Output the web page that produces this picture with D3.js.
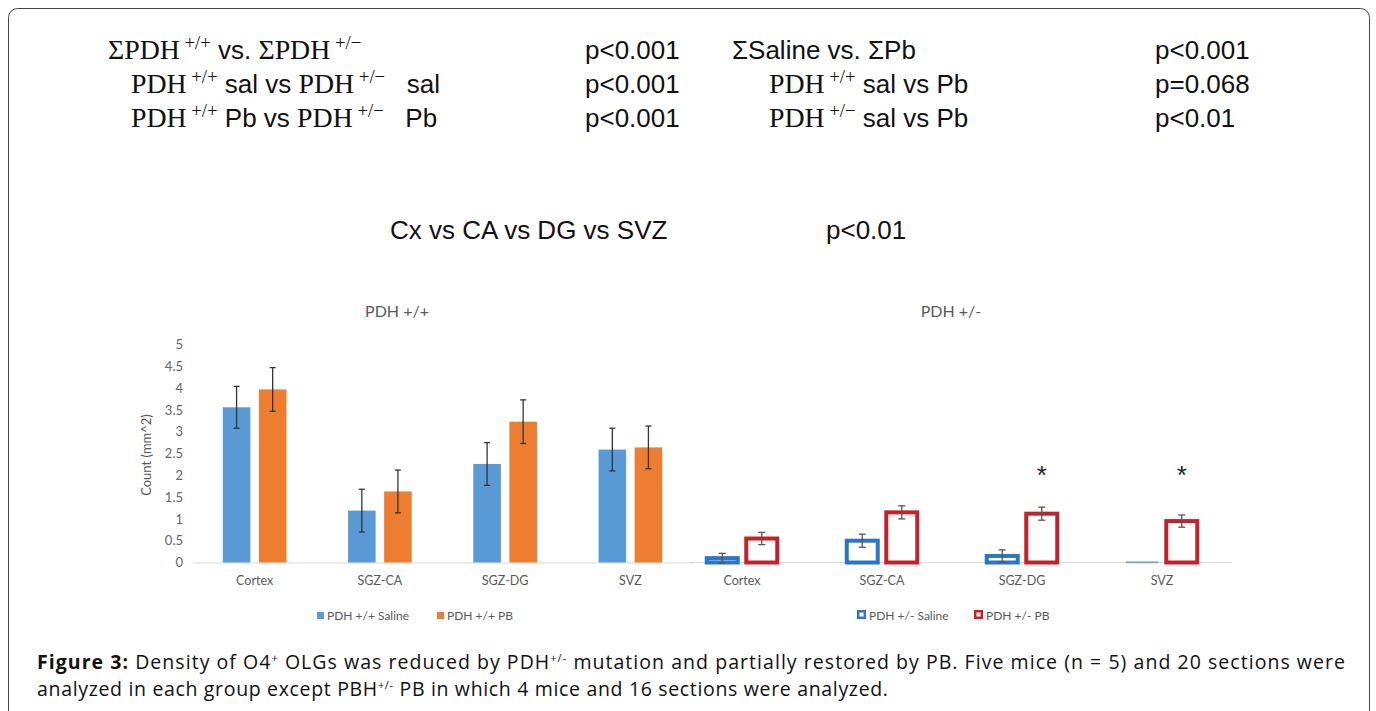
<!DOCTYPE html>
<html>
<head>
	<meta charset="utf-8">
	<title>Figure 3</title>
	<script src="https://d3js.org/d3.v7.min.js"></script>
	<style>
		body { margin: 0; background: #fff; }
		text { white-space: pre; }
	</style>
</head>
<body>
	<svg id="fig" width="1376" height="711"></svg>

	<script>
	// ---------- data ----------
	var regions = ["Cortex", "SGZ-CA", "SGZ-DG", "SVZ"];
	var wtSeries = ["PDH +/+ Saline", "PDH +/+ PB"];
	var hetSeries = ["PDH +/- Saline", "PDH +/- PB"];

	var wtSaline = [3.56, 1.19, 2.26, 2.59];
	var wtSalineErr = [0.48, 0.49, 0.49, 0.49];
	var wtPB = [3.97, 1.63, 3.23, 2.64];
	var wtPBErr = [0.5, 0.49, 0.5, 0.49];

	var hetSaline = [0.1, 0.5, 0.15, 0.01];
	var hetSalineErr = [0.11, 0.15, 0.14, 0];
	var hetPB = [0.55, 1.15, 1.12, 0.95];
	var hetPBErr = [0.14, 0.15, 0.15, 0.14];
	var hetStars = ["", "", "*", "*"];

	var yTicks = [0, 0.5, 1, 1.5, 2, 2.5, 3, 3.5, 4, 4.5, 5];

	// stats text, segments: s = sans, r = serif, u = superscript
	var statsLeft = [
		[["ΣPDH", "r"], ["+/+", "u"], [" vs. ", "s"], ["ΣPDH", "r"], ["+/−", "u"]],
		[["PDH", "r"], ["+/+", "u"], [" sal vs ", "s"], ["PDH", "r"], ["+/−", "u"], ["   sal", "s"]],
		[["PDH", "r"], ["+/+", "u"], [" Pb vs ", "s"], ["PDH", "r"], ["+/−", "u"], ["   Pb", "s"]]
	];
	var statsLeftP = ["p<0.001", "p<0.001", "p<0.001"];
	var statsRight = [
		[["ΣSaline vs. ΣPb", "s"]],
		[["PDH", "r"], ["+/+", "u"], [" sal vs Pb", "s"]],
		[["PDH", "r"], ["+/−", "u"], [" sal vs Pb", "s"]]
	];
	var statsRightP = ["p<0.001", "p=0.068", "p<0.01"];

	var sans = "'Liberation Sans', Arial, sans-serif";
	var serif = "'Liberation Serif', 'Times New Roman', serif";
	var chartFont = "Lato, 'Open Sans', sans-serif";
	var capFont = "'Open Sans', sans-serif";
	var grey = "#595959";

	var svg = d3.select("#fig");

	// frame
	svg.append("rect")
		.attr("x", 8.5).attr("y", 8.5)
		.attr("width", 1361).attr("height", 740)
		.attr("rx", 9)
		.attr("fill", "#fff")
		.attr("stroke", "#444")
		.attr("stroke-width", 1);

	//---------------------- STATS TEXT ----------------------
	function writeSegments(sel, segs, size) {
		var up = 0;
		segs.forEach(function(s) {
			var t = sel.append("tspan").text(s[0]);
			if (s[1] == "u") {
				t.attr("font-family", serif).attr("font-size", size * 0.72).attr("dy", -size * 0.38);
				up = size * 0.38;
				t.text(" " + s[0]);
			} else if (s[1] == "r") {
				t.attr("font-family", serif).attr("font-size", size * 1.07);
				if (up) { t.attr("dy", up); up = 0; }
			} else {
				t.attr("font-family", sans).attr("font-size", size);
				if (up) { t.attr("dy", up); up = 0; }
			}
		});
	}

	var rowY = [59, 93, 127];
	statsLeft.forEach(function(row, i) {
		var t = svg.append("text").attr("x", i == 0 ? 108 : 131).attr("y", rowY[i]).attr("fill", "#111");
		writeSegments(t, row, 26);
	});
	svg.selectAll(".pl").data(statsLeftP).enter().append("text")
		.attr("x", 585).attr("y", function(d, i) { return rowY[i]; })
		.attr("font-family", sans).attr("font-size", 26).attr("fill", "#111")
		.text(function(d) { return d; });
	statsRight.forEach(function(row, i) {
		var t = svg.append("text").attr("x", i == 0 ? 732 : 769).attr("y", rowY[i]).attr("fill", "#111");
		writeSegments(t, row, 26);
	});
	svg.selectAll(".pr").data(statsRightP).enter().append("text")
		.attr("x", 1155).attr("y", function(d, i) { return rowY[i]; })
		.attr("font-family", sans).attr("font-size", 26).attr("fill", "#111")
		.text(function(d) { return d; });

	svg.append("text").attr("x", 390).attr("y", 239)
		.attr("font-family", sans).attr("font-size", 26).attr("fill", "#111")
		.text("Cx vs CA vs DG vs SVZ");
	svg.append("text").attr("x", 826).attr("y", 239)
		.attr("font-family", sans).attr("font-size", 26).attr("fill", "#111")
		.text("p<0.01");

	//---------------------- SCALES ----------------------
	var y = d3.scaleLinear().domain([0, 5]).range([562.5, 344.5]);

	var xL = d3.scaleBand().domain(regions).range([192, 693]);
	var xL1 = d3.scaleBand().domain(wtSeries).range([0, xL.bandwidth()])
		.paddingInner(0.236).paddingOuter(0.854);

	var xR = d3.scaleBand().domain(regions).range([672, 1232]);
	var xR1 = d3.scaleBand().domain(hetSeries).range([0, xR.bandwidth()])
		.paddingInner(0.114).paddingOuter(0.829);

	//---------------------- LEFT CHART ----------------------
	var left = svg.append("g");

	left.append("text").attr("x", 397).attr("y", 317).attr("text-anchor", "middle")
		.attr("font-family", chartFont).attr("font-size", 16).attr("fill", grey)
		.text("PDH +/+");

	var yAxis = left.append("g")
		.attr("transform", "translate(186,0)")
		.call(d3.axisLeft(y).tickValues(yTicks).tickSize(0).tickFormat(d3.format("")));
	yAxis.select(".domain").remove();
	yAxis.selectAll("text").attr("font-family", chartFont).attr("font-size", 13).attr("fill", "#666");

	left.append("text")
		.attr("transform", "translate(151,455) rotate(-90)")
		.attr("text-anchor", "middle")
		.attr("font-family", chartFont).attr("font-size", 13).attr("fill", grey)
		.text("Count (mm^2)");

	var xAxisL = left.append("g")
		.attr("transform", "translate(0," + y(0) + ")")
		.call(d3.axisBottom(xL).tickSize(0).tickPadding(14));
	xAxisL.select(".domain").attr("stroke", "#d9d9d9");
	xAxisL.selectAll("text").attr("font-family", chartFont).attr("font-size", 12.5).attr("fill", grey);

	var wtRows = [
		{ vals: wtSaline, errs: wtSalineErr, color: "#5B9BD5" },
		{ vals: wtPB, errs: wtPBErr, color: "#ED7D31" }
	];
	wtRows.forEach(function(s, si) {
		var g = left.append("g");
		g.selectAll("rect").data(regions).enter().append("rect")
			.attr("x", function(d) { return xL(d) + xL1(wtSeries[si]); })
			.attr("y", function(d, i) { return y(s.vals[i]); })
			.attr("width", xL1.bandwidth())
			.attr("height", function(d, i) { return y(0) - y(s.vals[i]); })
			.attr("fill", s.color);
		var e = g.selectAll(".err").data(regions).enter().append("g")
			.attr("stroke", "#333").attr("stroke-width", 1.3);
		e.append("line")
			.attr("x1", function(d) { return xL(d) + xL1(wtSeries[si]) + xL1.bandwidth() / 2; })
			.attr("x2", function(d) { return xL(d) + xL1(wtSeries[si]) + xL1.bandwidth() / 2; })
			.attr("y1", function(d, i) { return y(s.vals[i] + s.errs[i]); })
			.attr("y2", function(d, i) { return y(s.vals[i] - s.errs[i]); });
		[1, -1].forEach(function(sign) {
			e.append("line")
				.attr("x1", function(d) { return xL(d) + xL1(wtSeries[si]) + xL1.bandwidth() / 2 - 3; })
				.attr("x2", function(d) { return xL(d) + xL1(wtSeries[si]) + xL1.bandwidth() / 2 + 3; })
				.attr("y1", function(d, i) { return y(s.vals[i] + sign * s.errs[i]); })
				.attr("y2", function(d, i) { return y(s.vals[i] + sign * s.errs[i]); });
		});
	});

	// legend
	var legL = left.append("g").attr("font-family", chartFont).attr("font-size", 12).attr("fill", grey);
	var legLx = [317, 437];
	wtRows.forEach(function(s, i) {
		legL.append("rect").attr("x", legLx[i]).attr("y", 612).attr("width", 7).attr("height", 7).attr("fill", s.color);
		legL.append("text").attr("x", legLx[i] + 10).attr("y", 620).text(wtSeries[i]);
	});

	//---------------------- RIGHT CHART ----------------------
	var right = svg.append("g");

	right.append("text").attr("x", 951).attr("y", 317).attr("text-anchor", "middle")
		.attr("font-family", chartFont).attr("font-size", 16).attr("fill", grey)
		.text("PDH +/-");

	var xAxisR = right.append("g")
		.attr("transform", "translate(0," + y(0) + ")")
		.call(d3.axisBottom(xR).tickSize(0).tickPadding(14));
	xAxisR.select(".domain").attr("stroke", "#d9d9d9").attr("d", "M690,0H1232");
	xAxisR.selectAll("text").attr("font-family", chartFont).attr("font-size", 12.5).attr("fill", grey);

	var hetRows = [
		{ vals: hetSaline, errs: hetSalineErr, color: "#2E75C2" },
		{ vals: hetPB, errs: hetPBErr, color: "#C2232B" }
	];
	hetRows.forEach(function(s, si) {
		var g = right.append("g");
		g.selectAll("rect").data(regions).enter().append("rect")
			.attr("x", function(d) { return xR(d) + xR1(hetSeries[si]) + 2; })
			.attr("y", function(d, i) { return y(s.vals[i]); })
			.attr("width", xR1.bandwidth() - 4)
			.attr("height", function(d, i) { return y(0) - y(s.vals[i]); })
			.attr("fill", "#fff")
			.attr("stroke", s.color)
			.attr("stroke-width", function(d, i) { return s.vals[i] < 0.05 ? 1.5 : 4; })
			.attr("stroke-opacity", function(d, i) { return s.vals[i] < 0.05 ? 0.6 : 1; });
		var cx = function(d) { return xR(d) + xR1(hetSeries[si]) + xR1.bandwidth() / 2; };
		var idx = function(d) { return regions.indexOf(d); };
		var e = g.selectAll(".err").data(regions.filter(function(d, i) { return s.errs[i] > 0; }))
			.enter().append("g")
			.attr("stroke", "#555").attr("stroke-width", 1.3);
		e.append("line")
			.attr("x1", cx).attr("x2", cx)
			.attr("y1", function(d) { return y(s.vals[idx(d)] + s.errs[idx(d)]); })
			.attr("y2", function(d) { return y(s.vals[idx(d)] - s.errs[idx(d)]); });
		[1, -1].forEach(function(sign) {
			e.append("line")
				.attr("x1", function(d) { return cx(d) - 3.5; })
				.attr("x2", function(d) { return cx(d) + 3.5; })
				.attr("y1", function(d) { return y(s.vals[idx(d)] + sign * s.errs[idx(d)]); })
				.attr("y2", function(d) { return y(s.vals[idx(d)] + sign * s.errs[idx(d)]); });
		});
	});

	// significance stars above PB bars
	right.selectAll(".star").data(regions).enter().append("text")
		.attr("x", function(d) { return xR(d) + xR1(hetSeries[1]) + xR1.bandwidth() / 2; })
		.attr("y", 484)
		.attr("text-anchor", "middle")
		.attr("font-family", sans).attr("font-size", 26).attr("fill", "#222")
		.text(function(d, i) { return hetStars[i]; });

	// legend
	var legR = right.append("g").attr("font-family", chartFont).attr("font-size", 12).attr("fill", grey);
	var legRx = [857, 974];
	hetRows.forEach(function(s, i) {
		legR.append("rect").attr("x", legRx[i] + 1.2).attr("y", 611.2).attr("width", 6.6).attr("height", 6.6)
			.attr("fill", "#fff").attr("stroke", s.color).attr("stroke-width", 2.5);
		legR.append("text").attr("x", legRx[i] + 12).attr("y", 620).text(hetSeries[i]);
	});

	//---------------------- CAPTION ----------------------
	var cap1 = svg.append("text").attr("x", 37).attr("y", 669)
		.attr("font-family", capFont).attr("font-size", 19.5).attr("fill", "#111")
		.attr("textLength", 1308).attr("lengthAdjust", "spacing");
	cap1.append("tspan").attr("font-weight", "bold").text("Figure 3:");
	cap1.append("tspan").text(" Density of O4");
	cap1.append("tspan").attr("font-size", 11).attr("dy", -7).text("+");
	cap1.append("tspan").attr("dy", 7).text(" OLGs was reduced by PDH");
	cap1.append("tspan").attr("font-size", 11).attr("dy", -7).text("+/-");
	cap1.append("tspan").attr("dy", 7).text(" mutation and partially restored by PB. Five mice (n = 5) and 20 sections were");

	var cap2 = svg.append("text").attr("x", 37).attr("y", 696)
		.attr("font-family", capFont).attr("font-size", 19.5).attr("fill", "#111")
		.attr("textLength", 851).attr("lengthAdjust", "spacing");
	cap2.append("tspan").text("analyzed in each group except PBH");
	cap2.append("tspan").attr("font-size", 11).attr("dy", -7).text("+/-");
	cap2.append("tspan").attr("dy", 7).text(" PB in which 4 mice and 16 sections were analyzed.");
	</script>
</body>
</html>
